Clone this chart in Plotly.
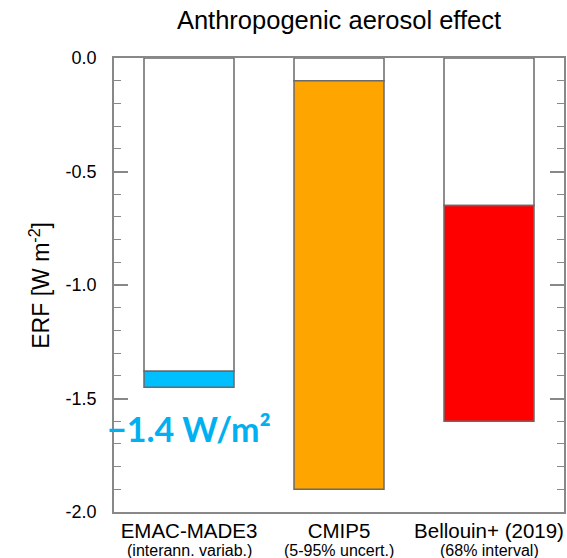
import plotly.graph_objects as go

categories = ["EMAC-MADE3", "CMIP5", "Bellouin+ (2019)"]
subtitles = ["(interann. variab.)", "(5-95% uncert.)", "(68% interval)"]
upper = [-1.38, -0.10, -0.65]
lower = [-1.45, -1.90, -1.60]
colors = ["#00BFFF", "#FFA500", "#FF0000"]
yticks = [0.0, -0.5, -1.0, -1.5, -2.0]
yticklabels = ["0.0", "-0.5", "-1.0", "-1.5", "-2.0"]
highlight_text = "\u22121.4 W/m\u00b2"
highlight_y = -1.63

xs = list(range(len(categories)))
outline = "#6a6a6a"

fig = go.Figure()
fig.add_trace(go.Bar(
    x=xs, y=upper, base=[0] * len(xs), width=0.6,
    marker=dict(color="white", line=dict(color=outline, width=1.5)),
    showlegend=False, hoverinfo="skip"))
fig.add_trace(go.Bar(
    x=xs, y=[l - u for l, u in zip(lower, upper)], base=upper, width=0.6,
    marker=dict(color=colors, line=dict(color=outline, width=1.5)),
    showlegend=False))

fig.update_layout(
    width=567, height=558,
    margin=dict(l=114, r=1, t=58, b=46),
    plot_bgcolor="white", paper_bgcolor="white",
    barmode="overlay",
    font=dict(family="Liberation Sans, Arial, sans-serif", color="black"),
    title=dict(text="Anthropogenic aerosol effect", x=0.5, xref="paper",
               y=1 - 20 / 558, yref="container", yanchor="middle",
               xanchor="center", font=dict(size=25.5)),
    xaxis=dict(range=[-0.5, 2.5], tickvals=xs, ticktext=categories,
               showline=True, linecolor="#888888", linewidth=1.5, mirror=True,
               ticks="", showgrid=False, zeroline=False,
               tickfont=dict(size=20.5), ticklabelstandoff=0),
    yaxis=dict(range=[-2.0, 0.0], tickvals=yticks, ticktext=yticklabels,
               showline=True, linecolor="#888888", linewidth=1.5, mirror="ticks",
               ticks="inside", ticklen=14, tickcolor="#888888", tickwidth=1.5,
               minor=dict(dtick=0.1, ticks="inside", ticklen=7,
                          tickcolor="#888888", tickwidth=1.2),
               showgrid=False, zeroline=False,
               tickfont=dict(size=18), ticklabelstandoff=12),
)

for x, sub in zip(xs, subtitles):
    fig.add_annotation(x=x, y=0, xref="x", yref="paper", text=sub,
                       showarrow=False, yanchor="middle", yshift=-38,
                       font=dict(size=16))

fig.add_annotation(x=-0.165, y=0.5, xref="paper", yref="paper",
                   text="ERF [W m<sup>-2</sup>]", textangle=-90,
                   showarrow=False, xanchor="center", yanchor="middle",
                   font=dict(size=23))

fig.add_annotation(x=0, y=highlight_y, xref="x", yref="y",
                   text="<b>" + highlight_text + "</b>", showarrow=False,
                   xanchor="center", yanchor="middle",
                   font=dict(family="Lato, sans-serif", size=34, color="#00B0F0"))

fig.write_html("out.html")
